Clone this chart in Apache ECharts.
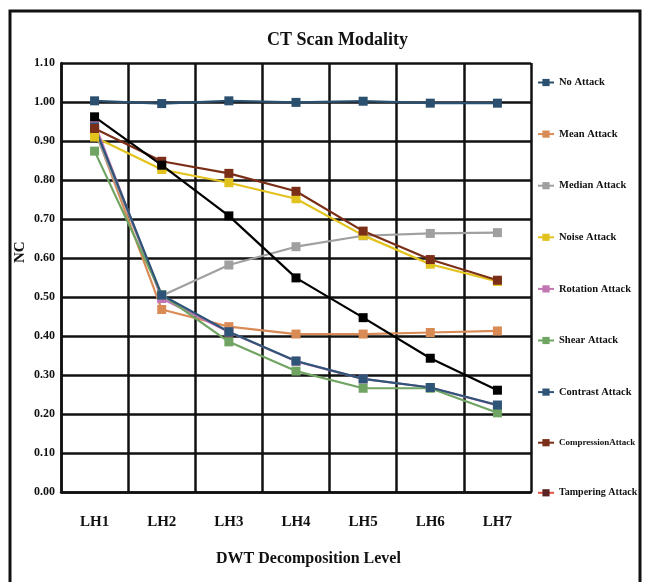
<!DOCTYPE html>
<html>
<head>
<meta charset="utf-8">
<script src="https://cdn.jsdelivr.net/npm/echarts@6/dist/echarts.min.js"></script>
<style>
  html, body { margin: 0; padding: 0; background: #fff; }
  #chart { width: 652px; height: 582px; }
</style>
</head>
<body>
<div id="chart"></div>
<script>
// DWT decomposition levels
const categories = ['LH1', 'LH2', 'LH3', 'LH4', 'LH5', 'LH6', 'LH7'];

// NC values per attack
const noAttack          = [1.003, 0.996, 1.003, 0.999, 1.002, 0.997, 0.997];
const meanAttack        = [0.930, 0.468, 0.424, 0.405, 0.405, 0.409, 0.413];
const medianAttack      = [0.927, 0.503, 0.582, 0.629, 0.657, 0.663, 0.665];
const noiseAttack       = [0.910, 0.827, 0.793, 0.752, 0.658, 0.584, 0.540];
const rotationAttack    = [0.945, 0.496, 0.410, 0.335, 0.290, 0.268, 0.222];
const shearAttack       = [0.874, 0.506, 0.385, 0.310, 0.266, 0.266, 0.203];
const contrastAttack    = [0.936, 0.505, 0.411, 0.336, 0.290, 0.268, 0.223];
const compressionAttack = [0.932, 0.848, 0.817, 0.771, 0.669, 0.596, 0.543];
const tamperingAttack   = [0.962, 0.838, 0.708, 0.549, 0.447, 0.343, 0.261];

const yTicks = { min: 0, max: 1.1, interval: 0.1 };

const FONT = '"Liberation Serif", "Times New Roman", serif';

const seriesDefs = [
  { name: 'No Attack',          data: noAttack,          color: '#2B4F6E' },
  { name: 'Mean Attack',        data: meanAttack,        color: '#D98B56' },
  { name: 'Median Attack',      data: medianAttack,      color: '#A0A0A0' },
  { name: 'Noise Attack',       data: noiseAttack,       color: '#E2C21C' },
  { name: 'Rotation Attack',    data: rotationAttack,    color: '#C277B4' },
  { name: 'Shear Attack',       data: shearAttack,       color: '#6FA462' },
  { name: 'Contrast Attack',    data: contrastAttack,    color: '#2E5577' },
  { name: 'CompressionAttack',  data: compressionAttack, color: '#7A2E17', legendFont: 9 },
  { name: 'Tampering Attack',   data: tamperingAttack,   color: '#000000',
    legendLine: '#E8503E', legendItem: '#5A2222', legendFont: 10 }
];

const chart = echarts.init(document.getElementById('chart'), null, { renderer: 'canvas' });

const option = {
  backgroundColor: '#fff',
  animation: false,
  title: {
    text: 'CT Scan Modality',
    left: 262,
    top: 26,
    textStyle: { fontFamily: FONT, fontSize: 18, fontWeight: 'bold', color: '#111' }
  },
  grid: { left: 61, right: 121, top: 63, bottom: 90 },
  legend: {
    orient: 'vertical',
    left: 537,
    top: 77,
    padding: 0,
    itemWidth: 16,
    itemHeight: 9,
    itemGap: 40.6,
    textStyle: { fontFamily: FONT, fontSize: 10.5, fontWeight: 'bold', color: '#111' },
    data: seriesDefs.map(s => {
      const item = { name: s.name };
      if (s.legendLine) {
        item.lineStyle = { color: s.legendLine };
        item.itemStyle = { color: s.legendItem };
      }
      if (s.legendFont) {
        item.textStyle = { fontSize: s.legendFont };
      }
      return item;
    })
  },
  xAxis: {
    type: 'category',
    data: categories,
    boundaryGap: true,
    axisLine: { show: true, lineStyle: { color: '#111', width: 2.5 } },
    axisTick: { show: false },
    splitLine: { show: true, interval: 0, lineStyle: { color: '#111', width: 2.5 } },
    axisLabel: { margin: 23, fontFamily: FONT, fontSize: 15, fontWeight: 'bold', color: '#111' }
  },
  yAxis: {
    type: 'value',
    min: yTicks.min,
    max: yTicks.max,
    interval: yTicks.interval,
    axisLine: { show: true, lineStyle: { color: '#111', width: 2.5 } },
    axisTick: { show: false },
    splitLine: { show: true, lineStyle: { color: '#111', width: 2.5 } },
    axisLabel: {
      margin: 6,
      fontFamily: FONT, fontSize: 12, fontWeight: 'bold', color: '#111',
      formatter: v => v.toFixed(2)
    }
  },
  graphic: [
    {
      type: 'rect',
      shape: { x: 10, y: 11, width: 630, height: 600 },
      style: { fill: 'none', stroke: '#111', lineWidth: 3 },
      z: 100
    },
    {
      type: 'text',
      left: 216,
      top: 551,
      style: { text: 'DWT Decomposition Level', font: 'bold 16px ' + FONT, fill: '#111' }
    },
    {
      type: 'text',
      x: 13,
      y: 263,
      rotation: Math.PI / 2,
      style: { text: 'NC', font: 'bold 15px ' + FONT, fill: '#111' }
    }
  ],
  series: seriesDefs.map(s => ({
    name: s.name,
    type: 'line',
    data: s.data,
    symbol: 'rect',
    symbolSize: 9,
    showSymbol: true,
    lineStyle: { color: s.color, width: 2.2 },
    itemStyle: { color: s.color },
    emphasis: { disabled: true }
  }))
};

chart.setOption(option);
</script>
</body>
</html>
